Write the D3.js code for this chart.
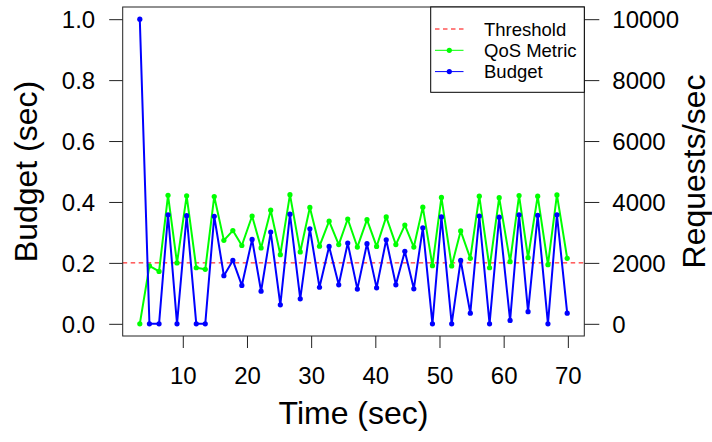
<!DOCTYPE html>
<html>
<head>
<meta charset="utf-8">
<script src="https://cdn.jsdelivr.net/npm/d3@7"></script>
<style>
  body { margin: 0; background: #fff; }
  text { font-family: "Liberation Sans", Arial, sans-serif; fill: #000; }
</style>
</head>
<body>
<script>
// time stamps (sec) of each sample
const time = [3.3, 4.8, 6.3, 7.7, 9.1, 10.6, 12.1, 13.5, 14.9, 16.4, 17.8, 19.2, 20.8, 22.2, 23.7, 25.2,
  26.7, 28.3, 29.8, 31.3, 32.8, 34.3, 35.7, 37.2, 38.7, 40.2, 41.7, 43.2, 44.6, 46.0, 47.4, 48.9,
  50.3, 51.9, 53.3, 54.8, 56.2, 57.8, 59.3, 61.0, 62.4, 63.8, 65.3, 66.9, 68.3, 69.9]

const qos = [0.0, 0.19, 0.172, 0.422, 0.20, 0.42, 0.184, 0.179, 0.418, 0.274, 0.306, 0.257, 0.354, 0.249,
  0.373, 0.227, 0.424, 0.236, 0.382, 0.255, 0.337, 0.26, 0.344, 0.252, 0.342, 0.254, 0.351, 0.26, 0.324,
  0.252, 0.383, 0.191, 0.415, 0.19, 0.305, 0.215, 0.419, 0.184, 0.414, 0.204, 0.421, 0.217, 0.419, 0.194,
  0.423, 0.215]

const budget = [1.0, 0, 0, 0.358, 0, 0.355, 0, 0, 0.353, 0.158, 0.208, 0.126, 0.277, 0.107, 0.301, 0.0625,
  0.36, 0.082, 0.312, 0.12, 0.254, 0.128, 0.265, 0.114, 0.263, 0.118, 0.276, 0.128, 0.238, 0.115, 0.315,
  0, 0.351, 0, 0.208, 0.035, 0.354, 0, 0.35, 0.011, 0.358, 0.04, 0.356, 0, 0.358, 0.035]

const threshold = 0.2

const xTicks = [10, 20, 30, 40, 50, 60, 70]
const yTicks = [0, 0.2, 0.4, 0.6, 0.8, 1.0]
const rTicks = [0, 2000, 4000, 6000, 8000, 10000]

const legendItems = [
  { label: 'Threshold', color: '#ff0000', dashed: true, point: false },
  { label: 'QoS Metric', color: '#00ff00', dashed: false, point: true },
  { label: 'Budget', color: '#0000ff', dashed: false, point: true }
]

const width = 712
const height = 442
const box = { left: 122.7, right: 584.3, top: 7, bottom: 336 }

// R style 4% padding around the data range
const tExt = d3.extent(time)
const pad = (tExt[1] - tExt[0]) * 0.04
const x = d3.scaleLinear().domain([tExt[0] - pad, tExt[1] + pad]).range([box.left, box.right])
const y = d3.scaleLinear().domain([-0.04, 1.04]).range([box.bottom, box.top])
const yR = d3.scaleLinear().domain([-400, 10400]).range([box.bottom, box.top])

const svg = d3.select('body').append('svg')
  .attr('width', width)
  .attr('height', height)

// threshold
svg.append('line')
  .attr('x1', box.left).attr('x2', box.right)
  .attr('y1', y(threshold)).attr('y2', y(threshold))
  .attr('stroke', '#ff0000')
  .attr('stroke-width', 1)
  .attr('stroke-dasharray', '4.5,3.5')

const line = d3.line().x((d, i) => x(time[i])).y(d => y(d))

function series (values, color) {
  let g = svg.append('g')
  g.append('path')
    .attr('d', line(values))
    .attr('fill', 'none')
    .attr('stroke', color)
    .attr('stroke-width', 2)
    .attr('stroke-linejoin', 'round')
  g.selectAll('circle').data(values).enter().append('circle')
    .attr('cx', (d, i) => x(time[i]))
    .attr('cy', d => y(d))
    .attr('r', 2.6)
    .attr('fill', color)
}

series(qos, '#00ff00')
series(budget, '#0000ff')

// plot box
svg.append('rect')
  .attr('x', box.left).attr('y', box.top)
  .attr('width', box.right - box.left)
  .attr('height', box.bottom - box.top)
  .attr('fill', 'none')
  .attr('stroke', '#222')
  .attr('stroke-width', 1)

// axes
const axisBottom = svg.append('g')
  .attr('transform', `translate(0,${box.bottom})`)
  .call(d3.axisBottom(x).tickValues(xTicks).tickSize(12).tickPadding(36).tickFormat(d3.format('d')))
const axisLeft = svg.append('g')
  .attr('transform', `translate(${box.left},0)`)
  .call(d3.axisLeft(y).tickValues(yTicks).tickSize(13.5).tickPadding(14).tickFormat(d3.format('.1f')))
const axisRight = svg.append('g')
  .attr('transform', `translate(${box.right},0)`)
  .call(d3.axisRight(yR).tickValues(rTicks).tickSize(15).tickPadding(13).tickFormat(d3.format('d')))

for (let a of [axisBottom, axisLeft, axisRight]) {
  a.select('.domain').remove()
  a.selectAll('line').attr('stroke', '#222')
  a.selectAll('text')
    .style('font-family', '"Liberation Sans", Arial, sans-serif')
    .style('font-size', '24px')
    .attr('fill', '#000')
}
axisBottom.selectAll('text').attr('dy', null).attr('y', 48)
axisLeft.selectAll('text').attr('dy', '0.36em')
axisRight.selectAll('text').attr('dy', '0.36em')

// axis titles
svg.append('text')
  .attr('x', (box.left + box.right) / 2)
  .attr('y', 424)
  .attr('text-anchor', 'middle')
  .style('font-size', '32px')
  .text('Time (sec)')

svg.append('text')
  .attr('transform', `translate(37,${(box.top + box.bottom) / 2}) rotate(-90)`)
  .attr('text-anchor', 'middle')
  .style('font-size', '32px')
  .text('Budget (sec)')

svg.append('text')
  .attr('transform', `translate(705,${(box.top + box.bottom) / 2}) rotate(-90)`)
  .attr('text-anchor', 'middle')
  .style('font-size', '32px')
  .text('Requests/sec')

// legend
const legend = svg.append('g')
legend.append('rect')
  .attr('x', 430.7).attr('y', box.top)
  .attr('width', box.right - 430.7).attr('height', 85.3)
  .attr('fill', '#fff')
  .attr('stroke', '#000')
  .attr('stroke-width', 1)

const item = legend.selectAll('g.item').data(legendItems).enter().append('g')
  .attr('class', 'item')
  .attr('transform', (d, i) => `translate(0,${29 + i * 21.3})`)
item.append('line')
  .attr('x1', 435).attr('x2', 463.5)
  .attr('stroke', d => d.color)
  .attr('stroke-width', 1)
  .attr('stroke-dasharray', d => d.dashed ? '4.5,3.5' : null)
item.filter(d => d.point).append('circle')
  .attr('cx', 449.3).attr('r', 2.6)
  .attr('fill', d => d.color)
item.append('text')
  .attr('x', 484)
  .attr('dy', '0.36em')
  .style('font-size', '18.5px')
  .text(d => d.label)
</script>
</body>
</html>
